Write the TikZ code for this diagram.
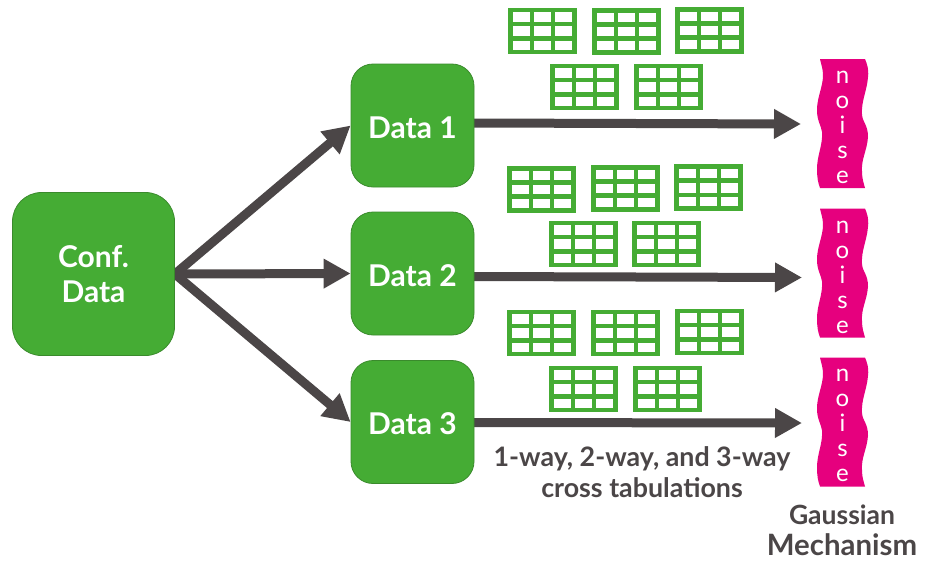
\documentclass[tikz,border=0pt]{standalone}
\usepackage{fontspec}
\setmainfont{Lato}
\usepackage{xcolor}
\usetikzlibrary{arrows.meta, positioning, backgrounds}
\definecolor{boxgreen}{HTML}{45AC34}
\definecolor{boxedge}{HTML}{3A8A2C}
\definecolor{noisepink}{HTML}{E6007E}
\definecolor{arrowgray}{HTML}{4B4647}
\tikzset{
  confbox/.style={draw=boxedge, line width=0.8pt, fill=boxgreen, rounded corners=29pt, minimum width=162pt, minimum height=163pt, text=white, font=\bfseries\fontsize{30}{35}\selectfont, align=center, inner sep=0pt},
  databox/.style={confbox, rounded corners=22pt, minimum width=123pt, minimum height=123pt, text height=25pt, text depth=0pt},
  flow/.style={draw=arrowgray, line width=9pt, -{Triangle[length=27pt, width=28pt]}},
  noisetext/.style={text=white, font=\fontsize{24}{24.8}\selectfont, align=center, inner sep=0pt},
  caption/.style={text=arrowgray, font=\bfseries\fontsize{26.8}{31}\selectfont, align=center, inner sep=0pt},
  crosstab/.pic={
    \draw[boxgreen, line width=4.5pt] (2.25,2.25) rectangle (66.1,44.4);
    \draw[boxgreen, line width=4.5pt] (23.7,2.25) -- (23.7,44.4);
    \draw[boxgreen, line width=4.5pt] (44.7,2.25) -- (44.7,44.4);
    \draw[boxgreen, line width=4.5pt] (2.25,16.3) -- (66.1,16.3);
    \draw[boxgreen, line width=4.5pt] (2.25,30.6) -- (66.1,30.6);
  },
  noiseflag/.pic={
    \fill[noisepink] (0,0) -- (45,0)
      .. controls (47,5) and (49,10) .. (48,18)
      .. controls (47,32) and (41,42) .. (42,56)
      .. controls (43,64) and (48,66) .. (48,78)
      .. controls (47,92) and (41,100) .. (42,113)
      .. controls (42,120) and (44,125) .. (45,129)
      -- (0,129)
      .. controls (-2,124) and (-3,118) .. (-3,110)
      .. controls (-3,96) and (3,86) .. (2,73)
      .. controls (1,66) and (-3,62) .. (-3,51)
      .. controls (-3,38) and (3,28) .. (3,16)
      .. controls (3,10) and (1,5) .. (0,0) -- cycle;
  }
}
\begin{document}
\begin{tikzpicture}[x=1pt, y=-1pt]
  \useasboundingbox (0,0) rectangle (934,571);

  \node[confbox] (conf) at (93.5,274) {Conf.\\Data};
  \node[databox] (data1) at (412.5,125.5) {Data 1};
  \node[databox] (data2) at (412.5,273.5) {Data 2};
  \node[databox] (data3) at (412.5,422) {Data 3};

  \pic at (508.3,7.7) {crosstab};
  \pic at (592.3,8) {crosstab};
  \pic at (675.3,7) {crosstab};
  \pic at (550.3,63.7) {crosstab};
  \pic at (634.3,63.7) {crosstab};

  \pic at (507.3,166) {crosstab};
  \pic at (591.3,165) {crosstab};
  \pic at (674.3,164.3) {crosstab};
  \pic at (549.3,220.7) {crosstab};
  \pic at (632.3,220.7) {crosstab};

  \pic at (507.3,309.7) {crosstab};
  \pic at (591.3,309.7) {crosstab};
  \pic at (675.3,308.7) {crosstab};
  \pic at (549.3,365.7) {crosstab};
  \pic at (633.3,365.7) {crosstab};

  \pic at (820,59) {noiseflag};
  \pic at (820,208.5) {noiseflag};
  \pic at (820,357.5) {noiseflag};
  \node[noisetext] (noise1) at (842.5,127.5) {n\\o\\i\\s\\e};
  \node[noisetext] (noise2) at (842.5,277.5) {n\\o\\i\\s\\e};
  \node[noisetext] (noise3) at (842.5,425.5) {n\\o\\i\\s\\e};

  \coordinate (out1) at (474,123);
  \coordinate (out2) at (474,276.5);
  \coordinate (out3) at (474,422.5);
  \coordinate (tip1) at (801,124);
  \coordinate (tip2) at (802,277.5);
  \coordinate (tip3) at (802,423);

  \begin{scope}[on background layer]
    \draw[flow] (conf.east) -- (data1.west);
    \draw[flow] (conf.east) -- (data2.west);
    \draw[flow] (conf.east) -- (data3.west);
    \draw[flow] (out1) -- (tip1);
    \draw[flow] (out2) -- (tip2);
    \draw[flow] (out3) -- (tip3);
  \end{scope}

  \node[caption] (tabs) at (642,472.5) {1-way, 2-way, and 3-way\\cross tabulations};
  \node[caption] (mech) at (842,530) {{\fontsize{26.5}{33}\selectfont Gaussian}\\{\fontsize{29.4}{33}\selectfont Mechanism}};
\end{tikzpicture}
\end{document}
